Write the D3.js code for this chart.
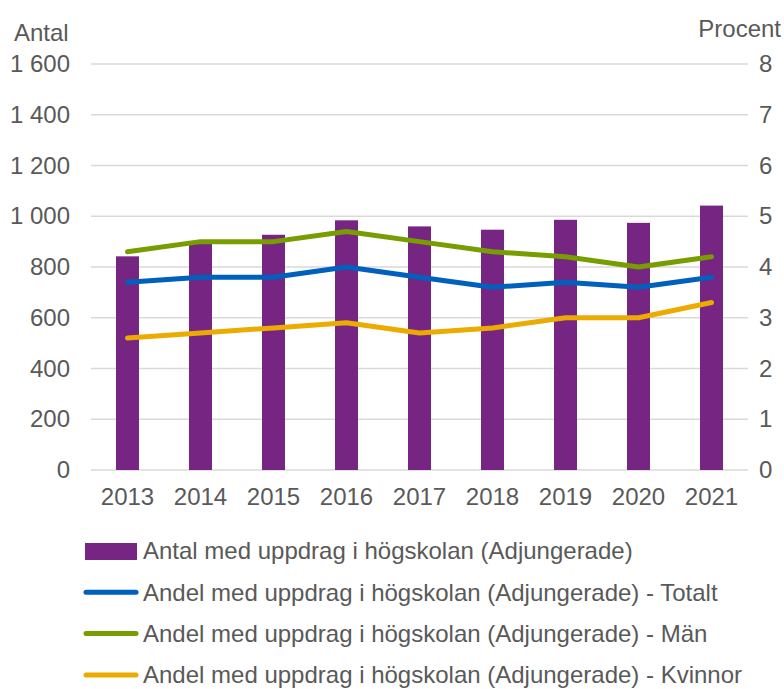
<!DOCTYPE html>
<html lang="sv">
<head>
<meta charset="UTF-8" />
<title>Adjungerade</title>
<style>
body { margin: 0; background: #fff; }
text { font-family: "Liberation Sans", Arial, sans-serif; fill: #595959; }
.grid line { stroke: #d9d9d9; stroke-width: 1.5; }
</style>
</head>
<body>
<script src="https://cdn.jsdelivr.net/npm/d3@7"></script>
<script>
var years = ["2013", "2014", "2015", "2016", "2017", "2018", "2019", "2020", "2021"];
var antal = [842, 895, 927, 984, 960, 947, 986, 974, 1042];
var totalt = [3.7, 3.8, 3.8, 4.0, 3.8, 3.6, 3.7, 3.6, 3.8];
var man = [4.3, 4.5, 4.5, 4.7, 4.5, 4.3, 4.2, 4.0, 4.2];
var kvinnor = [2.6, 2.7, 2.8, 2.9, 2.7, 2.8, 3.0, 3.0, 3.3];
var leftTicks = [0, 200, 400, 600, 800, 1000, 1200, 1400, 1600];
var rightTicks = [0, 1, 2, 3, 4, 5, 6, 7, 8];

var legendNames = [
	"Antal med uppdrag i högskolan (Adjungerade)",
	"Andel med uppdrag i högskolan (Adjungerade) - Totalt",
	"Andel med uppdrag i högskolan (Adjungerade) - Män",
	"Andel med uppdrag i högskolan (Adjungerade) - Kvinnor"
];
var purple = "#772583", blue = "#0060bd", green = "#779d00", yellow = "#ecab00";

var width = 784, height = 689, fs = 24;
var plotLeft = 91, plotRight = 748, plotTop = 64, plotBottom = 470;

var svg = d3.select("body").append("svg")
	.attr("width", width).attr("height", height);

var x = d3.scaleBand().domain(years).range([plotLeft, plotRight]).paddingInner(0.685).paddingOuter(0.3425);
var y = d3.scaleLinear().domain([0, 1600]).range([plotBottom, plotTop]);
var y2 = d3.scaleLinear().domain([0, 8]).range([plotBottom, plotTop]);

var fmt = function(d) { return d3.format(",")(d).replace(",", " "); };

// gridlines
svg.append("g").attr("class", "grid").selectAll("line")
	.data(leftTicks).enter().append("line")
	.attr("x1", plotLeft).attr("x2", plotRight)
	.attr("y1", function(d) { return y(d); }).attr("y2", function(d) { return y(d); });

// left axis
var yAxis = d3.axisLeft(y).tickValues(leftTicks).tickSize(0).tickPadding(0).tickFormat(fmt);
var gl = svg.append("g").attr("transform", "translate(70,0)").call(yAxis);
gl.select(".domain").remove();
gl.selectAll("text").attr("font-size", fs).attr("fill", "#595959").attr("font-family", null);

// right axis
var y2Axis = d3.axisRight(y2).tickValues(rightTicks).tickSize(0).tickPadding(0);
var gr = svg.append("g").attr("transform", "translate(759,0)").call(y2Axis);
gr.select(".domain").remove();
gr.selectAll("text").attr("font-size", fs).attr("fill", "#595959").attr("font-family", null);

// bars
svg.append("g").selectAll("rect")
	.data(antal).enter().append("rect")
	.attr("x", function(d, i) { return x(years[i]); })
	.attr("width", x.bandwidth())
	.attr("y", function(d) { return y(d); })
	.attr("height", function(d) { return y(0) - y(d); })
	.attr("fill", purple);

// x axis
var xAxis = d3.axisBottom(x).tickSize(0).tickPadding(0);
var gx = svg.append("g").attr("transform", "translate(0," + (plotBottom + 18) + ")").call(xAxis);
gx.select(".domain").remove();
gx.selectAll("text").attr("font-size", fs).attr("fill", "#595959").attr("font-family", null);

// lines
var line = d3.line()
	.x(function(d, i) { return x(years[i]) + x.bandwidth() / 2; })
	.y(function(d) { return y2(d); });

[[totalt, blue], [man, green], [kvinnor, yellow]].forEach(function(s) {
	svg.append("path").datum(s[0])
		.attr("d", line)
		.attr("fill", "none")
		.attr("stroke", s[1])
		.attr("stroke-width", 5)
		.attr("stroke-linecap", "round")
		.attr("stroke-linejoin", "round");
});

// axis titles
svg.append("text").attr("x", 14).attr("y", 41).attr("font-size", fs).text("Antal");
svg.append("text").attr("x", 781).attr("y", 37).attr("font-size", fs)
	.attr("text-anchor", "end").text("Procent");

// legend
var legendColors = [purple, blue, green, yellow];
var lg = svg.append("g").selectAll("g")
	.data(legendNames).enter().append("g")
	.attr("transform", function(d, i) { return "translate(0," + (551 + i * 41.3) + ")"; });

lg.each(function(d, i) {
	var g = d3.select(this);
	if (i === 0) {
		g.append("rect").attr("x", 85).attr("y", -8).attr("width", 52).attr("height", 17).attr("fill", purple);
	} else {
		g.append("line").attr("x1", 86).attr("x2", 136).attr("y1", 0).attr("y2", 0)
			.attr("stroke", legendColors[i]).attr("stroke-width", 5).attr("stroke-linecap", "round");
	}
	g.append("text").attr("x", 143).attr("y", 0).attr("dy", "0.35em")
		.attr("font-size", fs).text(d);
});
</script>
</body>
</html>
